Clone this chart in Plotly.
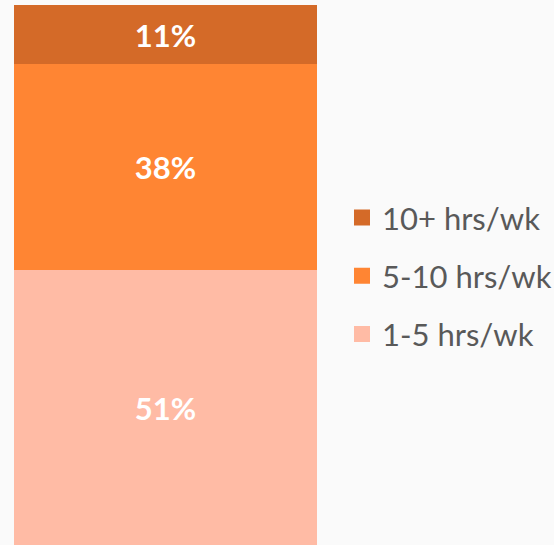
import plotly.graph_objects as go

categories = ["1-5 hrs/wk", "5-10 hrs/wk", "10+ hrs/wk"]
values = [51, 38, 11]
colors = ["#FFBBA5", "#FF8533", "#D46A28"]

W, H = 554, 545
fig = go.Figure()
for cat, v, c in zip(categories, values, colors):
    fig.add_trace(go.Bar(
        x=["all"], y=[v], name=cat, marker=dict(color=c, line=dict(width=0)),
        text=[f"{v}%"], textposition="inside", insidetextanchor="middle",
        textfont=dict(family="Lato", size=31, color="white", weight="bold"),
        showlegend=False, hoverinfo="skip",
    ))

for i, (cat, c) in enumerate(reversed(list(zip(categories, colors)))):
    fig.add_trace(go.Scatter(
        x=[None], y=[None], mode="markers", name=cat,
        marker=dict(symbol="square", size=18, color=c),
        legendgroup=f"g{i}", showlegend=True,
    ))

fig.update_layout(
    width=W, height=H,
    barmode="stack", bargap=0,
    margin=dict(l=0, r=0, t=0, b=0, autoexpand=False),
    paper_bgcolor="#FAFAFA", plot_bgcolor="rgba(0,0,0,0)",
    xaxis=dict(domain=[14 / W, 317 / W], visible=False, range=[-0.5, 0.5]),
    yaxis=dict(domain=[0, 540 / H], visible=False, range=[0, 100]),
    legend=dict(
        x=342 / W, y=0.494, xanchor="left", yanchor="middle",
        font=dict(family="Lato", size=31, color="#595959"),
        traceorder="grouped", tracegroupgap=15, itemsizing="trace",
        bgcolor="rgba(0,0,0,0)",
    ),
    uniformtext=dict(mode="show", minsize=20),
)

fig.write_html("out.html", config={"displayModeBar": False},
               post_script="document.body.style.margin='0';")
